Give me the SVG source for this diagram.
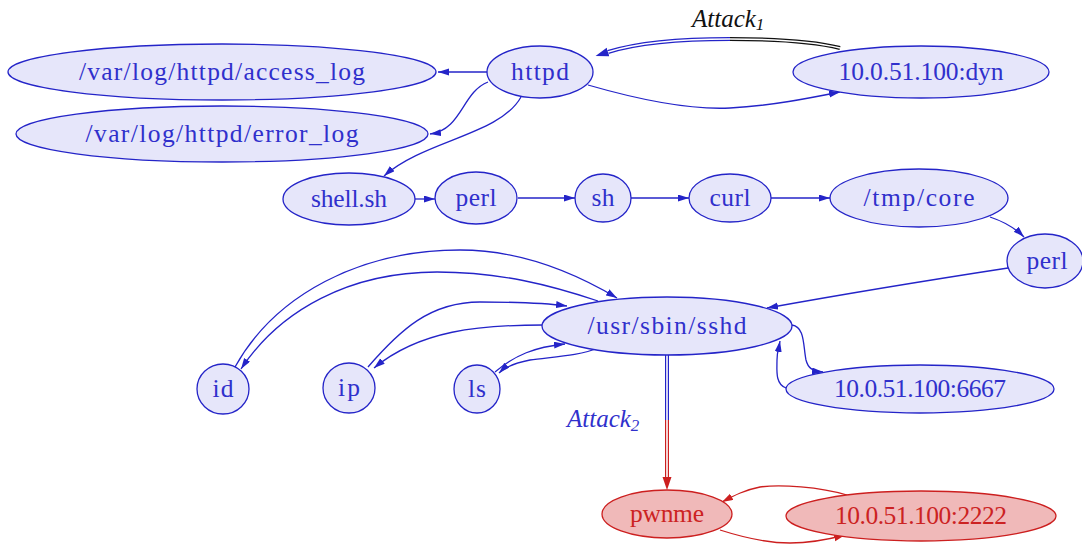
<svg xmlns="http://www.w3.org/2000/svg" width="1082" height="547" viewBox="0 0 1082 547">
<style>
.n ellipse{fill:#e6e6fa;stroke:#2424c8;stroke-width:1.3}
.n text{font-family:"Liberation Serif",serif;font-size:25.5px;fill:#3030cc;text-anchor:middle}
.r ellipse{fill:#f0b9b9;stroke:#cc1f1f;stroke-width:1.3}
.r text{fill:#cc2222}
.e path{fill:none;stroke:#2424c8;stroke-width:1.3}
.e path.red{stroke:#cc1f1f}
.lbl{font-family:"Liberation Serif",serif;font-style:italic;font-size:25px}
.sub{font-size:17px}
</style>
<defs>
<marker id="ab" markerUnits="userSpaceOnUse" markerWidth="11" markerHeight="8" refX="11" refY="3.5" orient="auto"><path d="M0,0 L11,3.5 L0,7 z" fill="#2424c8"/></marker>
<marker id="ar" markerUnits="userSpaceOnUse" markerWidth="11" markerHeight="8" refX="11" refY="3.5" orient="auto"><path d="M0,0 L11,3.5 L0,7 z" fill="#cc1f1f"/></marker>
<marker id="abb" markerUnits="userSpaceOnUse" markerWidth="14" markerHeight="10" refX="0" refY="4.5" orient="auto"><path d="M0,0 L13,4.5 L0,9 z" fill="#2424c8"/></marker>
<marker id="arb" markerUnits="userSpaceOnUse" markerWidth="14" markerHeight="10" refX="0" refY="4.5" orient="auto"><path d="M0,0 L13,4.5 L0,9 z" fill="#cc1f1f"/></marker>
</defs>

<g id="connectors" class="e">
<path d="M487,72 L438,72" marker-end="url(#ab)"/>
<path d="M488,82 C462,92 462,130 430,134" marker-end="url(#ab)"/>
<path d="M521,97 C500,135 425,140 384,176" marker-end="url(#ab)"/>
<path d="M588,85 C640,100 690,110 730,108 C770,106 810,98 840,92" marker-end="url(#ab)"/>
<path d="M415,199 L435,199" marker-end="url(#ab)"/>
<path d="M518,198 L575,198" marker-end="url(#ab)"/>
<path d="M631,198 L689,198" marker-end="url(#ab)"/>
<path d="M771,198 L830,198" marker-end="url(#ab)"/>
<path d="M990,217 C1005,222 1015,228 1024,237" marker-end="url(#ab)"/>
<path d="M1008,268 C930,280 850,293 767,308" marker-end="url(#ab)"/>
<path d="M235,367 C275,295 360,250 460,250 C520,250 575,273 617,298" marker-end="url(#ab)"/>
<path d="M598,301 C550,285 500,272 437,272 C350,272 280,310 241,369" marker-end="url(#ab)"/>
<path d="M368,367 C400,330 430,302 480,302 C520,302 545,303 567,306" marker-end="url(#ab)"/>
<path d="M543,325 C480,325 420,330 374,368" marker-end="url(#ab)"/>
<path d="M495,372 C515,355 535,347 565,344" marker-end="url(#ab)"/>
<path d="M598,348 C580,356 550,357 530,360 C515,363 505,367 499,373" marker-end="url(#ab)"/>
<path d="M792,325 C805,327 803,345 806,360 C808,368 812,371 823,372" marker-end="url(#ab)"/>
<path d="M786,388 C775,384 777,370 777,360 C777,352 779,347 780,341" marker-end="url(#ab)"/>
<path class="red" d="M847,495 C820,487 780,484 760,487 C745,490 735,495 722,502" marker-end="url(#ar)"/>
<path class="red" d="M720,530 C745,538 770,543 790,543 C810,543 830,539 845,535" marker-end="url(#ar)"/>
<path d="M840,48 C812,41 772,39 730,39" style="stroke:#111;stroke-width:4"/>
<path d="M730,39 C690,39 640,42 608,52" style="stroke-width:4" marker-end="url(#abb)"/>
<path d="M840,48 C812,41 772,39 730,39 C690,39 640,42 608,52" style="stroke:#fff;stroke-width:1.6"/>
<path d="M667,355 L667,420" style="stroke-width:4"/>
<path class="red" d="M667,420 L667,477" style="stroke-width:4" marker-end="url(#arb)"/>
<path d="M667,355 L667,477" style="stroke:#fff;stroke-width:1.6"/>
</g>

<text class="lbl" x="692" y="27" fill="#111">Attack<tspan class="sub" dy="3">1</tspan></text>
<text class="lbl" x="567" y="427" fill="#3030cc">Attack<tspan class="sub" dy="4">2</tspan></text>

<g id="access_log" class="n"><ellipse cx="222" cy="72" rx="214" ry="28"/><text x="222" y="80" textLength="286">/var/log/httpd/access_log</text></g>
<g id="error_log" class="n"><ellipse cx="222" cy="134" rx="206" ry="28"/><text x="222" y="142" textLength="273">/var/log/httpd/error_log</text></g>
<g id="httpd" class="n"><ellipse cx="540" cy="72" rx="53" ry="26"/><text x="540" y="80" textLength="58">httpd</text></g>
<g id="ip_dyn" class="n"><ellipse cx="921" cy="72" rx="128" ry="26"/><text x="921" y="80" textLength="165">10.0.51.100:dyn</text></g>
<g id="shell_sh" class="n"><ellipse cx="349" cy="199" rx="66" ry="26"/><text x="349" y="207" textLength="76">shell.sh</text></g>
<g id="perl1" class="n"><ellipse cx="476" cy="198" rx="41" ry="26"/><text x="476" y="206" textLength="41">perl</text></g>
<g id="sh" class="n"><ellipse cx="603" cy="198" rx="28" ry="24"/><text x="603" y="206" textLength="23">sh</text></g>
<g id="curl" class="n"><ellipse cx="730" cy="198" rx="41" ry="24"/><text x="730" y="206" textLength="41">curl</text></g>
<g id="tmp_core" class="n"><ellipse cx="919" cy="198" rx="89" ry="29"/><text x="919" y="206" textLength="111">/tmp/core</text></g>
<g id="perl2" class="n"><ellipse cx="1045" cy="261" rx="38" ry="27"/><text x="1047" y="269" textLength="41">perl</text></g>
<g id="sshd" class="n"><ellipse cx="667" cy="326" rx="125" ry="29"/><text x="667" y="334" textLength="159">/usr/sbin/sshd</text></g>
<g id="id" class="n"><ellipse cx="223" cy="389" rx="26" ry="25"/><text x="223" y="397" textLength="21">id</text></g>
<g id="ip" class="n"><ellipse cx="349" cy="388" rx="26" ry="25"/><text x="349" y="396" textLength="22">ip</text></g>
<g id="ls" class="n"><ellipse cx="477" cy="389" rx="23" ry="24"/><text x="477" y="397" textLength="18">ls</text></g>
<g id="ip_6667" class="n"><ellipse cx="920" cy="389" rx="134" ry="24"/><text x="920" y="397" textLength="172">10.0.51.100:6667</text></g>
<g id="pwnme" class="n r"><ellipse cx="667" cy="514" rx="65" ry="24"/><text x="667" y="522" textLength="74">pwnme</text></g>
<g id="ip_2222" class="n r"><ellipse cx="921" cy="516" rx="135" ry="25"/><text x="921" y="524" textLength="172">10.0.51.100:2222</text></g>
</svg>
